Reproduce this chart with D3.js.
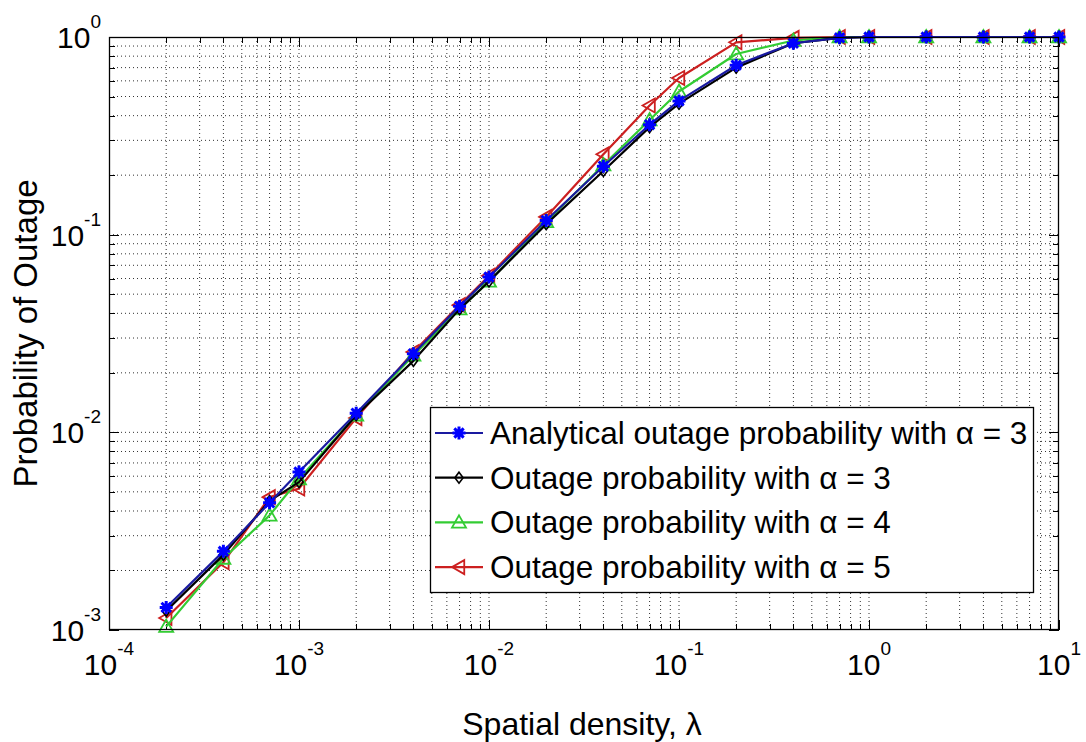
<!DOCTYPE html>
<html><head><meta charset="utf-8">
<script src="https://cdn.jsdelivr.net/npm/d3@7/dist/d3.min.js"></script>
<style>
html,body{margin:0;padding:0;background:#fff;}
svg{display:block;font-family:"Liberation Sans",Arial,sans-serif;}
</style></head>
<body>
<svg id="chart" width="1086" height="742"></svg>
<script>
// ---- data ----
const lambda = [2e-4,4e-4,7e-4,1e-3,2e-3,4e-3,7e-3,1e-2,2e-2,4e-2,7e-2,1e-1,2e-1,4e-1,7e-1,1,2,4,7,10];
const analyticA3 = [0.0013,0.0025,0.0044,0.0063,0.0125,0.025,0.0435,0.061,0.118,0.222,0.36,0.475,0.72,0.93,0.99,1,1,1,1,1];
const simA3 = [0.00125,0.0024,0.0045,0.0056,0.0122,0.023,0.042,0.058,0.113,0.21,0.35,0.46,0.70,0.93,0.99,1,1,1,1,1];
const simA4 = [0.00104,0.0023,0.0038,0.0058,0.0122,0.0245,0.042,0.058,0.116,0.225,0.38,0.53,0.82,0.96,1,1,1,1,1,1];
const simA5 = [0.00115,0.0022,0.0047,0.0052,0.0118,0.0255,0.044,0.062,0.123,0.255,0.45,0.62,0.94,0.99,1,1,1,1,1,1];
const seriesNames = ["Analytical outage probability with \u03B1 = 3","Outage probability with \u03B1 = 3","Outage probability with \u03B1 = 4","Outage probability with \u03B1 = 5"];
const xTickExps = [-4,-3,-2,-1,0,1];
const yTickExps = [-3,-2,-1,0];
const xTitle = "Spatial density, \u03BB";
const yTitle = "Probability of Outage";

// ---- layout ----
const L=109, R=1059, T=37, B=630;
const svg = d3.select("#chart");
const x = d3.scaleLog().domain([1e-4,10]).range([L,R]);
const y = d3.scaleLog().domain([1e-3,1]).range([B,T]);

const series = [
  {name:seriesNames[0], values:analyticA3, line:"#1a1aa0", mk:"#0000ff", marker:"star"},
  {name:seriesNames[1], values:simA3, line:"#000000", mk:"#000000", marker:"diamond"},
  {name:seriesNames[2], values:simA4, line:"#33cc33", mk:"#33cc33", marker:"triUp"},
  {name:seriesNames[3], values:simA5, line:"#cc2020", mk:"#cc2020", marker:"triLeft"}
];

// minor/major tick values
const xTicks=[], yTicks=[];
for(let e=-4;e<1;e++) for(let m=1;m<10;m++) xTicks.push(m*Math.pow(10,e));
xTicks.push(10);
for(let e=-3;e<0;e++) for(let m=1;m<10;m++) yTicks.push(m*Math.pow(10,e));
yTicks.push(1);
const isMajor = v => Math.abs(Math.log10(v)-Math.round(Math.log10(v)))<1e-9;

// grid
const grid = svg.append("g");
xTicks.forEach(v=>{ if(x(v)>L+0.5 && x(v)<R-0.5)
  grid.append("line").attr("x1",x(v)).attr("x2",x(v)).attr("y1",T).attr("y2",B)
  .attr("stroke","#333").attr("stroke-width",1).attr("stroke-dasharray","1,3");});
yTicks.forEach(v=>{ if(y(v)>T+0.5 && y(v)<B-0.5)
  grid.append("line").attr("y1",y(v)).attr("y2",y(v)).attr("x1",L).attr("x2",R)
  .attr("stroke","#333").attr("stroke-width",1).attr("stroke-dasharray","1,3");});

// ticks (inside, all four sides)
const tk = svg.append("g").attr("stroke","#000").attr("stroke-width",1);
xTicks.forEach(v=>{ const len=isMajor(v)?10:6; const xx=Math.round(x(v))+0.5;
  tk.append("line").attr("x1",xx).attr("x2",xx).attr("y1",B).attr("y2",B-len);
  tk.append("line").attr("x1",xx).attr("x2",xx).attr("y1",T).attr("y2",T+len);});
yTicks.forEach(v=>{ const len=isMajor(v)?10:6; const yy=Math.round(y(v))+0.5;
  tk.append("line").attr("y1",yy).attr("y2",yy).attr("x1",L).attr("x2",L+len);
  tk.append("line").attr("y1",yy).attr("y2",yy).attr("x1",R).attr("x2",R-len);});

// tick labels
xTickExps.forEach(e=>{
  const t = svg.append("text").attr("x",x(Math.pow(10,e))).attr("y",675)
    .attr("text-anchor","middle").attr("font-size",30).attr("fill","#000");
  t.append("tspan").text("10");
  t.append("tspan").attr("font-size",19).attr("dy",-20).text(String(e));
});
yTickExps.forEach(e=>{
  const t = svg.append("text").attr("x",101).attr("y",y(Math.pow(10,e))+11)
    .attr("text-anchor","end").attr("font-size",30).attr("fill","#000");
  t.append("tspan").text("10");
  t.append("tspan").attr("font-size",19).attr("dy",-20).text(String(e));
});

// axis titles
svg.append("text").attr("x",(L+R)/2 - 2).attr("y",735).attr("text-anchor","middle")
  .attr("font-size",32).text(xTitle);
svg.append("text").attr("transform",`translate(37,${(T+B)/2}) rotate(-90)`)
  .attr("text-anchor","middle").attr("font-size",33).text(yTitle);

// markers
function drawMarker(g, type, cx, cy, color){
  if(type==="star"){
    const s=6.5;
    const p=`M${cx-s},${cy}L${cx+s},${cy}M${cx},${cy-s}L${cx},${cy+s}M${cx-s*0.72},${cy-s*0.72}L${cx+s*0.72},${cy+s*0.72}M${cx-s*0.72},${cy+s*0.72}L${cx+s*0.72},${cy-s*0.72}`;
    g.append("path").attr("d",p).attr("stroke",color).attr("stroke-width",3).attr("fill","none");
  } else if(type==="diamond"){
    const s=5.5;
    g.append("path").attr("d",`M${cx},${cy-s}L${cx+s*0.75},${cy}L${cx},${cy+s}L${cx-s*0.75},${cy}Z`)
      .attr("stroke",color).attr("stroke-width",1.6).attr("fill","none");
  } else if(type==="triUp"){
    const s=7;
    g.append("path").attr("d",`M${cx},${cy-s}L${cx+s},${cy+s*0.75}L${cx-s},${cy+s*0.75}Z`)
      .attr("stroke",color).attr("stroke-width",1.8).attr("fill","none");
  } else if(type==="triLeft"){
    const s=7;
    g.append("path").attr("d",`M${cx-s},${cy}L${cx+s*0.75},${cy-s}L${cx+s*0.75},${cy+s}Z`)
      .attr("stroke",color).attr("stroke-width",1.8).attr("fill","none");
  }
}

// series (draw in reverse so blue is on top)
const line = d3.line().x(d=>x(d[0])).y(d=>y(d[1]));
[...series].reverse().forEach(s=>{
  const pts = lambda.map((l,i)=>[l,s.values[i]]);
  const g = svg.append("g");
  g.append("path").datum(pts).attr("d",line).attr("fill","none")
    .attr("stroke",s.line).attr("stroke-width",2.2).attr("stroke-linejoin","round");
  pts.forEach(p=>drawMarker(g,s.marker,x(p[0]),y(p[1]),s.mk));
});

// frame
svg.append("rect").attr("x",L+0.5).attr("y",T+0.5).attr("width",R-L-1).attr("height",B-T-1)
  .attr("fill","none").attr("stroke","#000").attr("stroke-width",1.3);

// legend
const lg = svg.append("g");
lg.append("rect").attr("x",430.5).attr("y",407.5).attr("width",603).attr("height",185)
  .attr("fill","#fff").attr("stroke","#000").attr("stroke-width",1.3);
series.forEach((s,i)=>{
  const cy = 433 + i*44.7;
  lg.append("line").attr("x1",435).attr("x2",483).attr("y1",cy).attr("y2",cy)
    .attr("stroke",s.line).attr("stroke-width",2.2);
  drawMarker(lg,s.marker,459,cy,s.mk);
  lg.append("text").attr("x",490).attr("y",cy+11).attr("font-size",31.5).text(s.name);
});
</script>
</body></html>
